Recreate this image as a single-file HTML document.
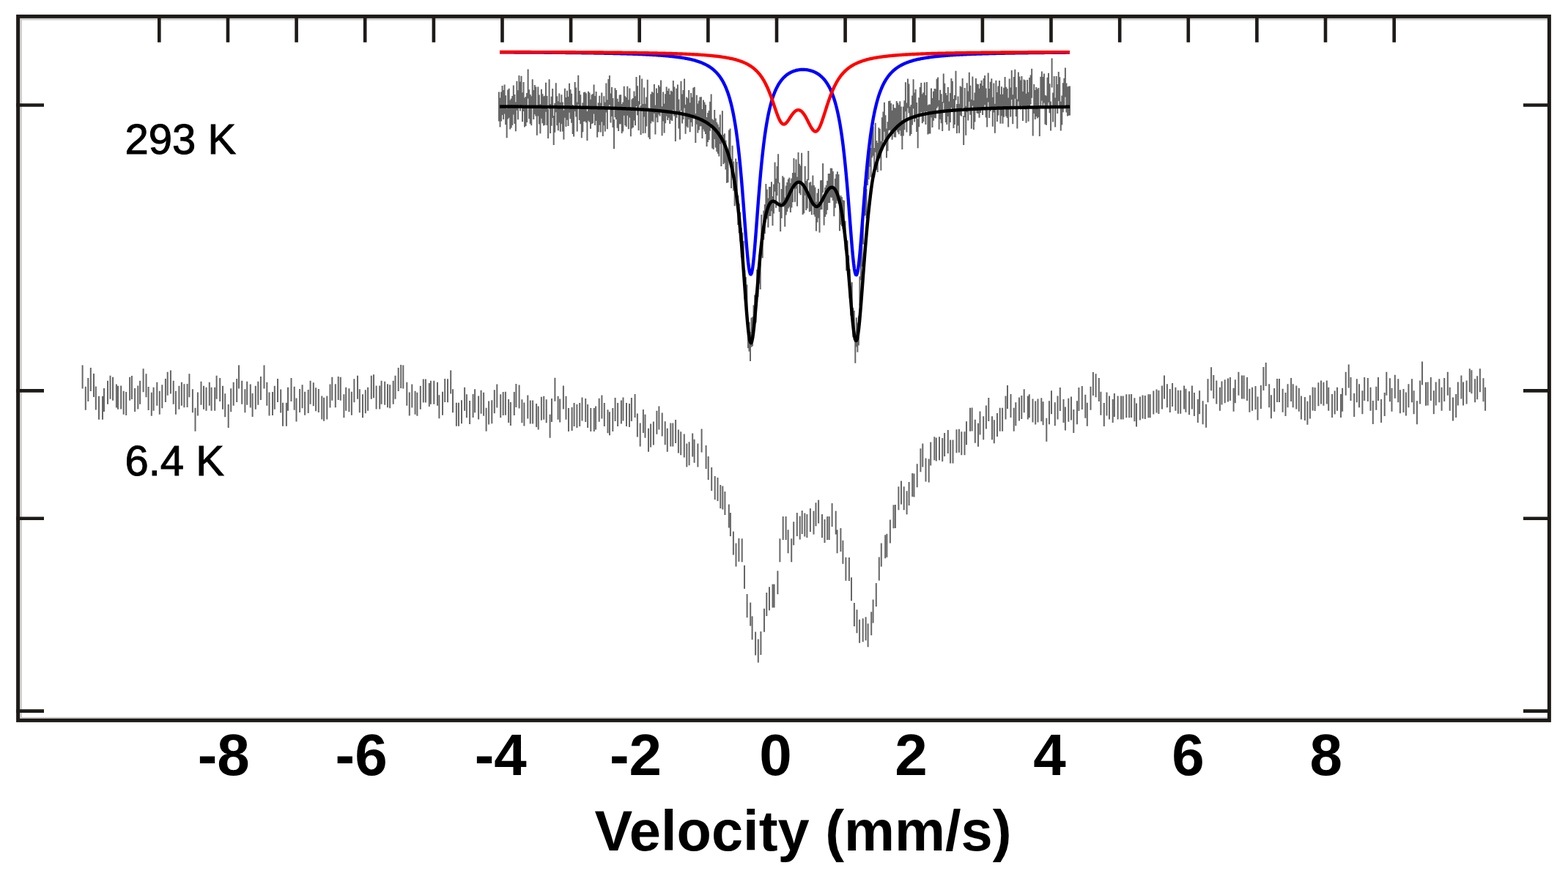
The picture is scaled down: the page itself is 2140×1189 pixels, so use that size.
<!DOCTYPE html>
<html><head><meta charset="utf-8"><title>Velocity (mm/s)</title>
<style>html,body{margin:0;padding:0;background:#fff;}svg{display:block;}</style>
</head><body>
<svg width="2140" height="1189" viewBox="0 0 2140 1189">
<rect width="2140" height="1189" fill="#fff"/>
<rect x="27" y="24.9" width="2085" height="2.6" fill="#cdcdcd"/>
<rect x="27.3" y="24.9" width="2.6" height="956" fill="#cdcdcd"/>
<rect x="27" y="978.9" width="2085" height="2.4" fill="#cdcdcd"/>
<path d="M112.6,498.6V530.6M116.8,527.8V559.8M120.3,516.0V548.0M123.8,502.0V534.0M128.0,509.9V541.9M130.8,527.4V559.4M135.0,540.7V572.7M140.0,540.7V572.7M142.0,530.0V562.0M147.0,519.7V551.7M150.5,512.7V544.7M154.0,514.8V546.8M158.9,524.6V556.6M161.0,526.7V558.7M165.2,526.4V558.4M168.7,533.7V565.7M172.2,535.0V567.0M177.1,514.8V546.8M179.9,513.0V545.0M184.1,530.0V562.0M188.3,526.4V558.4M191.1,519.7V551.7M195.6,503.3V535.3M199.5,510.3V542.3M202.6,528.0V560.0M206.8,535.8V567.8M209.6,528.8V560.8M214.3,521.8V553.8M217.8,533.7V565.7M221.3,525.3V557.3M225.9,516.9V548.9M228.7,507.8V539.8M232.9,505.6V537.6M236.7,519.7V551.7M239.9,533.7V565.7M244.4,526.7V558.7M247.9,521.8V553.8M251.4,524.3V556.3M255.6,523.9V555.9M258.4,510.3V542.3M262.9,531.3V563.3M266.5,556.8V588.8M269.9,535.5V567.5M274.5,520.8V552.8M278.0,526.7V558.7M281.5,528.8V560.8M285.8,521.8V553.8M288.6,528.8V560.8M293.2,528.8V560.8M295.6,512.7V544.7M300.2,515.9V547.9M304.0,526.7V558.7M307.2,537.2V569.2M311.7,551.9V583.9M315.2,530.2V562.2M318.7,521.8V553.8M323.2,516.9V548.9M326.0,498.6V530.6M330.2,519.7V551.7M334.4,531.3V563.3M337.2,520.8V552.8M341.8,524.6V556.6M344.6,536.9V568.9M348.8,526.7V558.7M352.3,520.8V552.8M355.9,514.0V546.0M360.5,498.6V530.6M364.3,521.8V553.8M367.5,535.5V567.5M372.0,535.0V567.0M374.8,526.7V558.7M379.0,516.9V548.9M383.2,531.6V563.6M386.0,549.8V581.8M390.9,549.8V581.8M393.0,528.8V560.8M397.5,516.0V548.0M401.7,527.8V559.8M404.5,543.5V575.5M409.1,530.9V562.9M412.6,525.3V557.3M416.1,534.8V566.8M420.7,532.0V564.0M423.6,519.7V551.7M427.8,522.2V554.2M431.1,529.2V561.2M434.8,530.9V562.9M439.3,540.4V572.4M442.1,542.8V574.8M446.3,540.4V572.4M450.5,524.6V556.6M453.3,514.8V546.8M457.8,524.3V556.3M461.7,514.0V546.0M464.8,514.8V546.8M469.4,538.3V570.3M472.2,528.8V560.8M476.4,530.2V562.2M479.9,534.8V566.8M483.4,517.3V549.3M488.0,512.7V544.7M490.8,531.3V563.3M495.0,538.3V570.3M498.8,532.3V564.3M502.1,528.8V560.8M506.8,512.7V544.7M510.0,511.2V543.2M513.6,526.4V558.4M518.2,526.4V558.4M520.6,519.7V551.7M525.2,520.8V552.8M529.0,524.3V556.3M532.1,525.3V557.3M536.7,519.7V551.7M539.5,512.7V544.7M543.7,502.1V534.1M547.2,497.9V529.9M550.3,498.6V530.6M555.3,521.8V553.8M558.8,535.5V567.5M562.3,524.6V556.6M566.6,533.7V565.7M569.4,535.8V567.8M573.8,526.7V558.7M577.8,517.6V549.6M580.9,517.6V549.6M585.8,522.9V554.9M587.9,519.7V551.7M592.3,519.7V551.7M597.0,521.8V553.8M599.4,539.3V571.3M604.0,534.8V566.8M607.2,516.9V548.9M611.0,517.3V549.3M615.2,505.6V537.6M618.0,531.3V563.3M622.9,549.8V581.8M626.0,549.8V581.8M630.0,546.3V578.3M634.1,528.8V560.8M636.9,538.3V570.3M641.1,547.0V579.0M645.6,537.9V569.9M648.1,531.3V563.3M653.1,540.4V572.4M656.6,532.7V564.7M660.1,535.8V567.8M663.6,556.8V588.8M667.1,547.4V579.4M671.3,546.3V578.3M674.8,532.3V564.3M678.3,524.6V556.6M683.2,538.3V570.3M686.7,535.0V567.0M689.9,534.8V566.8M694.1,544.9V576.9M696.9,549.1V581.1M701.8,535.0V567.0M704.4,524.1V556.1M708.6,525.6V557.6M712.4,545.3V577.3M715.4,549.4V581.4M720.3,539.6V571.6M723.8,546.4V578.4M727.1,546.4V578.4M732.1,550.9V582.9M734.7,554.4V586.4M738.9,541.8V573.8M742.2,540.8V572.8M745.7,545.3V577.3M750.6,565.8V597.8M753.0,544.1V576.1M757.4,515.8V547.8M761.6,540.8V572.8M764.2,544.6V576.6M768.9,526.4V558.4M772.5,540.8V572.8M776.0,557.0V589.0M780.6,555.9V587.9M783.6,549.9V581.9M787.4,552.1V584.1M791.2,549.9V581.9M794.5,542.6V574.6M799.2,544.1V576.1M802.1,552.1V584.1M806.3,557.0V589.0M810.8,557.0V589.0M813.1,554.4V586.4M817.7,543.8V575.8M821.4,539.6V571.6M824.8,549.9V581.9M829.5,559.3V591.3M832.0,562.3V594.3M836.3,557.0V589.0M839.6,543.0V575.0M843.1,549.9V581.9M847.9,546.4V578.4M850.5,542.6V574.6M855.0,549.9V581.9M859.0,550.9V582.9M861.9,543.0V575.0M866.6,538.1V570.1M869.9,564.6V596.6M873.7,577.4V609.4M877.9,559.0V591.0M880.5,565.8V597.8M885.0,584.7V616.7M888.1,578.6V610.6M891.9,575.6V607.6M896.4,560.8V592.8M899.4,554.4V586.4M903.7,563.5V595.5M907.7,575.2V607.2M910.8,584.7V616.7M915.3,577.4V609.4M918.3,577.4V609.4M922.1,572.9V604.9M925.9,586.5V618.5M929.2,589.2V621.2M933.8,592.6V624.6M937.3,605.4V637.4M940.6,603.2V635.2M945.2,591.5V623.5M947.6,599.8V631.8M952.4,605.4V637.4M957.6,585.5V617.5M963.6,608.0V640.0M966.7,623.0V655.0M971.2,638.0V670.0M975.7,650.0V682.0M979.5,652.0V684.0M983.3,662.0V694.0M986.3,663.6V695.6M989.4,671.0V703.0M994.8,688.4V720.4M996.9,700.0V732.0M1000.9,725.6V757.6M1004.5,741.4V773.4M1008.4,734.7V766.7M1012.7,735.3V767.3M1016.0,771.7V803.7M1019.6,811.0V843.0M1024.2,822.5V854.5M1026.6,841.3V873.3M1031.1,862.5V894.5M1034.8,872.5V904.5M1038.4,862.0V894.0M1043.0,830.7V862.7M1046.3,809.0V841.0M1050.0,801.3V833.3M1054.5,797.4V829.4M1056.6,797.4V829.4M1061.4,779.2V811.2M1064.4,735.3V767.3M1068.7,705.0V737.0M1072.6,705.0V737.0M1075.6,723.2V755.2M1080.2,735.3V767.3M1083.2,712.3V744.3M1087.8,700.0V732.0M1091.7,704.5V736.5M1094.7,696.9V728.9M1098.3,700.5V732.5M1101.4,702.0V734.0M1105.9,693.9V725.9M1110.5,697.5V729.5M1113.5,686.3V718.3M1117.1,682.4V714.4M1122.0,702.0V734.0M1125.5,709.0V741.0M1129.2,705.0V737.0M1131.7,705.0V737.0M1135.6,686.9V718.9M1140.7,697.5V729.5M1142.6,723.2V755.2M1147.4,721.1V753.1M1150.4,737.8V769.8M1154.4,760.8V792.8M1158.9,761.1V793.1M1162.0,788.3V820.3M1165.9,823.1V855.1M1169.5,832.2V864.2M1173.1,845.8V877.8M1177.7,844.3V876.3M1181.6,842.2V874.2M1184.6,851.3V883.3M1189.2,835.2V867.2M1191.6,818.6V850.6M1195.8,795.9V827.9M1199.8,760.5V792.5M1202.8,741.4V773.4M1208.2,730.2V762.2M1210.4,728.7V760.7M1214.9,709.6V741.6M1219.5,689.3V721.3M1221.9,689.0V721.0M1226.4,664.2V696.2M1230.0,656.6V688.6M1233.7,664.2V696.2M1237.6,670.3V702.3M1240.6,658.1V690.1M1245.2,646.0V678.0M1247.5,646.4V678.4M1251.7,633.3V665.3M1256.4,612.2V644.2M1259.3,605.5V637.5M1263.5,625.4V657.4M1267.7,626.5V658.5M1270.2,603.5V635.5M1275.3,596.3V628.3M1277.8,597.6V629.6M1282.0,596.3V628.3M1286.2,598.0V630.0M1289.1,590.9V622.9M1293.8,587.0V619.0M1297.1,600.5V632.5M1300.5,600.5V632.5M1305.5,586.2V618.2M1308.9,585.8V617.8M1312.3,589.2V621.2M1316.5,589.2V621.2M1319.0,575.2V607.2M1324.0,556.7V588.7M1326.6,556.4V588.4M1330.8,572.7V604.7M1335.0,577.8V609.8M1337.5,561.5V593.5M1342.2,568.2V600.2M1345.9,553.4V585.4M1349.3,543.0V575.0M1354.0,568.2V600.2M1356.8,573.2V605.2M1361.0,564.0V596.0M1364.7,556.7V588.7M1368.1,556.7V588.7M1372.5,540.4V572.4M1375.0,526.1V558.1M1379.5,537.9V569.9M1383.7,556.7V588.7M1386.3,549.2V581.2M1391.0,542.4V574.4M1394.3,539.9V571.9M1397.7,531.2V563.2M1402.8,540.4V572.4M1404.8,538.2V570.2M1409.5,544.6V576.6M1413.2,547.5V579.5M1416.5,544.6V576.6M1421.3,543.3V575.3M1423.6,548.3V580.3M1428.3,570.7V602.7M1432.0,547.2V579.2M1435.0,533.2V565.2M1439.8,549.2V581.2M1443.5,540.4V572.4M1446.8,529.0V561.0M1451.5,545.0V577.0M1453.9,555.6V587.6M1458.3,543.8V575.8M1462.0,541.6V573.6M1465.3,558.9V590.9M1470.0,547.2V579.2M1472.4,529.0V561.0M1476.8,527.0V559.0M1481.3,538.7V570.7M1483.8,549.7V581.7M1488.5,527.8V559.8M1491.9,508.0V540.0M1495.6,510.2V542.2M1499.8,516.0V548.0M1502.4,534.7V566.7M1506.8,550.0V582.0M1510.5,535.6V567.6M1514.0,540.5V572.5M1518.7,545.1V577.1M1520.9,536.9V568.9M1525.6,540.5V572.5M1530.1,540.5V572.5M1532.7,540.5V572.5M1537.3,538.2V570.2M1541.2,538.2V570.2M1544.1,537.9V569.9M1548.4,543.2V575.2M1551.0,550.4V582.4M1555.9,541.5V573.5M1559.5,539.5V571.5M1562.8,540.1V572.1M1567.4,538.2V570.2M1569.7,538.2V570.2M1574.3,533.6V565.6M1578.5,531.4V563.4M1581.4,533.0V565.0M1586.0,526.4V558.4M1589.0,512.4V544.4M1592.9,524.2V556.2M1596.8,531.0V563.0M1600.1,523.1V555.1M1604.4,528.8V560.8M1607.9,532.7V564.7M1611.2,532.7V564.7M1616.1,526.4V558.4M1618.4,530.7V562.7M1623.0,534.3V566.3M1626.9,526.4V558.4M1629.9,536.0V568.0M1634.8,545.1V577.1M1637.1,533.3V565.3M1641.6,547.3V579.3M1646.1,551.7V583.7M1648.5,517.3V549.3M1653.1,501.3V533.3M1656.3,512.0V544.0M1660.3,519.6V551.6M1664.9,528.8V560.8M1667.5,520.5V552.5M1671.7,518.3V550.3M1676.0,516.6V548.6M1678.9,515.0V547.0M1683.6,529.7V561.7M1685.8,518.3V550.3M1690.4,507.8V539.8M1695.0,512.4V544.4M1697.6,512.4V544.4M1702.1,515.0V547.0M1705.4,530.7V562.7M1709.1,528.8V560.8M1713.5,527.1V559.1M1716.5,541.5V573.5M1720.9,526.1V558.1M1724.4,500.9V532.9M1727.7,495.0V527.0M1732.2,524.2V556.2M1734.9,539.2V571.2M1739.2,530.1V562.1M1743.1,517.0V549.0M1746.0,517.0V549.0M1750.6,530.7V562.7M1754.5,536.0V568.0M1757.5,524.2V556.2M1762.1,516.0V548.0M1764.7,524.2V556.2M1769.3,526.4V558.4M1772.8,529.7V561.7M1775.9,540.5V572.5M1780.9,542.1V574.1M1784.4,547.7V579.7M1787.9,539.5V571.5M1791.6,528.4V560.4M1794.6,529.0V561.0M1799.4,522.2V554.2M1803.0,519.6V551.6M1806.4,521.8V553.8M1810.8,519.6V551.6M1813.2,528.8V560.8M1818.1,537.9V569.9M1821.7,533.6V565.6M1825.0,528.8V560.8M1830.0,537.9V569.9M1832.1,529.7V561.7M1836.7,507.8V539.8M1840.7,497.4V529.4M1843.5,515.0V547.0M1848.2,536.9V568.9M1851.8,517.3V549.3M1855.0,524.2V556.2M1859.4,533.3V565.3M1862.2,515.0V547.0M1866.8,516.0V548.0M1870.5,528.8V560.8M1873.8,547.1V579.1M1878.3,527.7V559.7M1881.0,515.0V547.0M1885.1,545.1V577.1M1889.7,536.0V568.0M1892.3,507.8V539.8M1896.9,516.3V548.3M1899.5,529.7V561.7M1903.8,511.8V543.8M1908.3,517.3V549.3M1910.9,532.3V564.3M1915.5,531.0V563.0M1918.9,535.6V567.6M1922.4,524.2V556.2M1927.0,517.3V549.3M1929.6,533.3V565.3M1933.9,547.3V579.3M1938.1,519.6V551.6M1941.0,493.4V525.4M1946.0,521.8V553.8M1948.6,521.6V553.6M1952.8,515.0V547.0M1956.8,533.3V565.3M1959.7,521.6V553.6M1964.3,517.3V549.3M1967.6,528.8V560.8M1971.2,516.0V548.0M1975.8,507.8V539.8M1978.7,528.8V560.8M1983.0,542.5V574.5M1987.2,537.9V569.9M1989.8,521.6V553.6M1994.4,512.4V544.4M1997.0,521.6V553.6M2001.6,519.6V551.6M2005.8,503.3V535.3M2008.4,505.2V537.2M2013.1,517.3V549.3M2016.2,513.3V545.3M2019.9,503.3V535.3M2024.5,516.3V548.3M2027.1,528.8V560.8" stroke="#666" stroke-width="2" fill="none"/>
<path d="M681.00,125.4V165.4M682.52,133.6V173.6M684.05,125.6V165.6M685.57,116.9V156.9M687.10,123.1V163.1M688.62,115.6V155.6M690.15,130.3V170.3M691.67,148.2V188.2M693.20,122.6V162.6M694.72,120.8V160.8M696.24,136.4V176.4M697.77,134.5V174.5M699.29,131.0V171.0M700.82,116.5V156.5M702.34,129.1V169.1M703.87,139.3V179.3M705.39,110.7V150.7M706.92,123.2V163.2M708.44,103.0V143.0M709.96,111.5V151.5M711.49,103.8V143.8M713.01,126.3V166.3M714.54,111.9V151.9M716.06,133.4V173.4M717.59,131.9V171.9M719.11,127.1V167.1M720.64,94.5V134.5M722.16,122.2V162.2M723.68,129.0V169.0M725.21,131.3V171.3M726.73,108.3V148.3M728.26,123.1V163.1M729.78,116.1V156.1M731.31,118.5V158.5M732.83,144.7V184.7M734.36,118.5V158.5M735.88,129.4V169.4M737.41,142.2V182.2M738.93,121.7V161.7M740.45,128.3V168.3M741.98,131.5V171.5M743.50,130.8V170.8M745.03,112.8V152.8M746.55,131.0V171.0M748.08,149.0V189.0M749.60,108.3V148.3M751.13,142.0V182.0M752.65,131.7V171.7M754.17,121.1V161.1M755.70,158.1V198.1M757.22,140.8V180.8M758.75,113.3V153.3M760.27,131.2V171.2M761.80,138.2V178.2M763.32,127.5V167.5M764.85,139.7V179.7M766.37,129.3V169.3M767.89,139.6V179.6M769.42,150.4V190.4M770.94,120.8V160.8M772.47,133.1V173.1M773.99,123.8V163.8M775.52,132.1V172.1M777.04,113.7V153.7M778.57,122.3V162.3M780.09,127.7V167.7M781.61,143.0V183.0M783.14,146.5V186.5M784.66,112.0V152.0M786.19,119.4V159.4M787.71,139.6V179.6M789.24,102.7V142.7M790.76,124.1V164.1M792.29,129.3V169.3M793.81,148.3V188.3M795.33,140.3V180.3M796.86,126.1V166.1M798.38,125.6V165.6M799.91,127.3V167.3M801.43,152.1V192.1M802.96,124.8V164.8M804.48,126.6V166.6M806.01,135.8V175.8M807.53,129.2V169.2M809.05,128.2V168.2M810.58,115.4V155.4M812.10,130.9V170.9M813.63,124.9V164.9M815.15,147.4V187.4M816.68,140.3V180.3M818.20,130.8V170.8M819.73,140.6V180.6M821.25,126.5V166.5M822.77,146.0V186.0M824.30,131.3V171.3M825.82,139.6V179.6M827.35,113.4V153.4M828.87,136.3V176.3M830.40,107.9V147.9M831.92,103.1V143.1M833.45,127.4V167.4M834.97,119.1V159.1M836.50,134.0V174.0M838.02,163.2V203.2M839.54,120.2V160.2M841.07,123.1V163.1M842.59,134.8V174.8M844.12,138.9V178.9M845.64,129.6V169.6M847.17,129.2V169.2M848.69,142.0V182.0M850.22,139.5V179.5M851.74,117.8V157.8M853.26,131.2V171.2M854.79,132.9V172.9M856.31,117.7V157.7M857.84,136.2V176.2M859.36,120.6V160.6M860.89,146.3V186.3M862.41,135.4V175.4M863.94,134.0V174.0M865.46,124.6V164.6M866.98,131.3V171.3M868.51,105.1V145.1M870.03,117.3V157.3M871.56,137.9V177.9M873.08,102.7V142.7M874.61,144.0V184.0M876.13,107.4V147.4M877.66,142.1V182.1M879.18,119.4V159.4M880.70,141.8V181.8M882.23,132.4V172.4M883.75,108.8V148.8M885.28,147.5V187.5M886.80,149.9V189.9M888.33,128.5V168.5M889.85,125.3V165.3M891.38,126.6V166.6M892.90,114.9V154.9M894.42,143.6V183.6M895.95,120.4V160.4M897.47,127.0V167.0M899.00,116.3V156.3M900.52,118.5V158.5M902.05,109.6V149.6M903.57,145.2V185.2M905.10,125.6V165.6M906.62,141.4V181.4M908.14,128.3V168.3M909.67,118.5V158.5M911.19,123.9V163.9M912.72,120.8V160.8M914.24,128.9V168.9M915.77,123.8V163.8M917.29,125.0V165.0M918.82,110.1V150.1M920.34,118.4V158.4M921.86,153.1V193.1M923.39,120.7V160.7M924.91,115.6V155.6M926.44,135.4V175.4M927.96,150.6V190.6M929.49,110.8V150.8M931.01,128.6V168.6M932.54,123.0V163.0M934.06,107.5V147.5M935.59,142.8V182.8M937.11,132.5V172.5M938.63,134.2V174.2M940.16,123.0V163.0M941.68,140.3V180.3M943.21,126.9V166.9M944.73,132.8V172.8M946.26,119.8V159.8M947.78,118.8V158.8M949.31,155.0V195.0M950.83,129.8V169.8M952.35,141.5V181.5M953.88,137.6V177.6M955.40,132.5V172.5M956.93,132.3V172.3M958.45,148.9V188.9M959.98,136.6V176.6M961.50,139.6V179.6M963.03,142.9V182.9M964.55,160.0V200.0M966.07,154.0V194.0M967.60,150.9V190.9M969.12,138.8V178.8M970.65,128.5V168.5M972.17,162.5V202.5M973.70,164.1V204.1M975.22,150.1V190.1M976.75,161.6V201.6M978.27,166.9V206.9M979.79,169.8V209.8M981.32,173.4V213.4M982.84,156.6V196.6M984.37,186.9V226.9M985.89,151.2V191.2M987.42,184.0V224.0M988.94,182.3V222.3M990.47,191.5V231.5M991.99,209.8V249.8M993.51,209.0V249.0M995.04,177.4V217.4M996.56,175.6V215.6M998.09,217.1V257.1M999.61,198.7V238.7M1001.14,220.6V260.6M1002.66,241.3V281.3M1004.19,216.5V256.5M1005.71,221.1V261.1M1007.23,266.9V306.9M1008.76,278.0V318.0M1010.28,289.7V329.7M1011.81,311.1V351.1M1013.33,317.5V357.5M1014.86,328.7V368.7M1016.38,368.6V408.6M1017.91,378.2V418.2M1019.43,388.4V428.4M1020.95,435.2V475.2M1022.48,439.7V479.7M1024.00,453.0V493.0M1025.53,433.8V473.8M1027.05,432.6V472.6M1028.58,416.5V456.5M1030.10,402.8V442.8M1031.63,400.3V440.3M1033.15,367.9V407.9M1034.68,365.3V405.3M1036.20,347.6V387.6M1037.72,355.1V395.1M1039.25,293.0V333.0M1040.77,312.3V352.3M1042.30,287.4V327.4M1043.82,279.1V319.1M1045.35,251.1V291.1M1046.87,258.6V298.6M1048.40,270.4V310.4M1049.92,254.9V294.9M1051.44,254.9V294.9M1052.97,248.2V288.2M1054.49,267.9V307.9M1056.02,251.5V291.5M1057.54,221.6V261.6M1059.07,243.7V283.7M1060.59,227.0V267.0M1062.12,210.2V250.2M1063.64,249.3V289.3M1065.16,275.9V315.9M1066.69,258.0V298.0M1068.21,240.3V280.3M1069.74,242.3V282.3M1071.26,269.5V309.5M1072.79,253.4V293.4M1074.31,249.0V289.0M1075.84,244.5V284.5M1077.36,242.6V282.6M1078.88,250.1V290.1M1080.41,243.5V283.5M1081.93,236.1V276.1M1083.46,216.1V256.1M1084.98,235.8V275.8M1086.51,217.6V257.6M1088.03,241.5V281.5M1089.56,207.9V247.9M1091.08,223.8V263.8M1092.60,226.2V266.2M1094.13,208.8V248.8M1095.65,253.0V293.0M1097.18,251.3V291.3M1098.70,226.8V266.8M1100.23,246.9V286.9M1101.75,244.5V284.5M1103.28,205.9V245.9M1104.80,249.3V289.3M1106.32,248.2V288.2M1107.85,253.2V293.2M1109.37,239.6V279.6M1110.90,253.1V293.1M1112.42,255.7V295.7M1113.95,275.5V315.5M1115.47,263.4V303.4M1117.00,257.8V297.8M1118.52,277.6V317.6M1120.05,246.2V286.2M1121.57,245.9V285.9M1123.09,223.0V263.0M1124.62,267.4V307.4M1126.14,256.1V296.1M1127.67,252.7V292.7M1129.19,246.8V286.8M1130.72,237.0V277.0M1132.24,236.9V276.9M1133.77,229.4V269.4M1135.29,229.8V269.8M1136.81,233.7V273.7M1138.34,255.2V295.2M1139.86,243.7V283.7M1141.39,237.8V277.8M1142.91,234.2V274.2M1144.44,238.1V278.1M1145.96,275.2V315.2M1147.49,266.8V306.8M1149.01,268.9V308.9M1150.53,273.0V313.0M1152.06,273.8V313.8M1153.58,301.6V341.6M1155.11,329.6V369.6M1156.63,328.3V368.3M1158.16,348.5V388.5M1159.68,367.3V407.3M1161.21,390.9V430.9M1162.73,385.2V425.2M1164.25,420.2V460.2M1165.78,423.9V463.9M1167.30,455.7V495.7M1168.83,433.4V473.4M1170.35,440.8V480.8M1171.88,431.6V471.6M1173.40,377.2V417.2M1174.93,342.5V382.5M1176.45,323.9V363.9M1177.97,293.5V333.5M1179.50,255.0V295.0M1181.02,253.9V293.9M1182.55,258.0V298.0M1184.07,212.9V252.9M1185.60,205.0V245.0M1187.12,187.7V227.7M1188.65,201.8V241.8M1190.17,175.2V215.2M1191.69,172.7V212.7M1193.22,202.0V242.0M1194.74,167.7V207.7M1196.27,192.0V232.0M1197.79,195.0V235.0M1199.32,174.3V214.3M1200.84,175.7V215.7M1202.37,192.8V232.8M1203.89,160.3V200.3M1205.41,152.5V192.5M1206.94,139.8V179.8M1208.46,157.2V197.2M1209.99,175.4V215.4M1211.51,166.3V206.3M1213.04,137.9V177.9M1214.56,137.4V177.4M1216.09,140.9V180.9M1217.61,150.8V190.8M1219.14,142.6V182.6M1220.66,147.3V187.3M1222.18,147.4V187.4M1223.71,138.0V178.0M1225.23,140.6V180.6M1226.76,143.2V183.2M1228.28,138.2V178.2M1229.81,145.6V185.6M1231.33,164.0V204.0M1232.86,145.4V185.4M1234.38,137.2V177.2M1235.90,112.2V152.2M1237.43,140.6V180.6M1238.95,107.4V147.4M1240.48,114.4V154.4M1242.00,145.6V185.6M1243.53,143.0V183.0M1245.05,130.6V170.6M1246.58,108.3V148.3M1248.10,126.6V166.6M1249.62,121.9V161.9M1251.15,139.9V179.9M1252.67,162.2V202.2M1254.20,133.3V173.3M1255.72,118.9V158.9M1257.25,113.1V153.1M1258.77,128.3V168.3M1260.30,126.3V166.3M1261.82,112.5V152.5M1263.34,130.0V170.0M1264.87,112.0V152.0M1266.39,143.4V183.4M1267.92,142.5V182.5M1269.44,142.5V182.5M1270.97,120.4V160.4M1272.49,134.0V174.0M1274.02,124.8V164.8M1275.54,120.9V160.9M1277.06,121.4V161.4M1278.59,107.8V147.8M1280.11,105.6V145.6M1281.64,136.7V176.7M1283.16,122.7V162.7M1284.69,128.2V168.2M1286.21,139.1V179.1M1287.74,100.6V140.6M1289.26,113.7V153.7M1290.78,127.0V167.0M1292.31,129.9V169.9M1293.83,119.0V159.0M1295.36,138.5V178.5M1296.88,126.9V166.9M1298.41,106.9V146.9M1299.93,110.7V150.7M1301.46,134.9V174.9M1302.98,130.0V170.0M1304.50,96.8V136.8M1306.03,142.1V182.1M1307.55,131.5V171.5M1309.08,141.8V181.8M1310.60,117.5V157.5M1312.13,118.7V158.7M1313.65,106.9V146.9M1315.18,158.1V198.1M1316.70,120.1V160.1M1318.23,144.7V184.7M1319.75,113.3V153.3M1321.27,124.5V164.5M1322.80,98.8V138.8M1324.32,116.7V156.7M1325.85,135.8V175.8M1327.37,104.4V144.4M1328.90,136.9V176.9M1330.42,126.5V166.5M1331.95,107.1V147.1M1333.47,114.6V154.6M1334.99,115.1V155.1M1336.52,120.8V160.8M1338.04,113.9V153.9M1339.57,109.8V149.8M1341.09,117.0V157.0M1342.62,106.9V146.9M1344.14,103.1V143.1M1345.67,120.4V160.4M1347.19,133.4V173.4M1348.71,99.6V139.6M1350.24,121.0V161.0M1351.76,111.8V151.8M1353.29,107.2V147.2M1354.81,132.7V172.7M1356.34,113.5V153.5M1357.86,141.7V181.7M1359.39,109.7V149.7M1360.91,126.0V166.0M1362.43,117.4V157.4M1363.96,110.0V150.0M1365.48,128.7V168.7M1367.01,118.3V158.3M1368.53,128.8V168.8M1370.06,119.7V159.7M1371.58,105.1V145.1M1373.11,118.8V158.8M1374.63,120.9V160.9M1376.15,133.6V173.6M1377.68,107.5V147.5M1379.20,119.6V159.6M1380.73,96.0V136.0M1382.25,129.2V169.2M1383.78,104.9V144.9M1385.30,94.7V134.7M1386.83,119.1V159.1M1388.35,135.4V175.4M1389.87,98.5V138.5M1391.40,104.6V144.6M1392.92,109.4V149.4M1394.45,104.0V144.0M1395.97,125.0V165.0M1397.50,108.4V148.4M1399.02,109.6V149.6M1400.55,127.8V167.8M1402.07,109.0V149.0M1403.59,125.7V165.7M1405.12,106.0V146.0M1406.64,102.6V142.6M1408.17,93.8V133.8M1409.69,145.5V185.5M1411.22,115.0V155.0M1412.74,122.9V162.9M1414.27,119.0V159.0M1415.79,121.6V161.6M1417.32,120.1V160.1M1418.84,146.1V186.1M1420.36,104.8V144.8M1421.89,97.5V137.5M1423.41,105.1V145.1M1424.94,100.6V140.6M1426.46,129.7V169.7M1427.99,130.7V170.7M1429.51,105.7V145.7M1431.04,99.7V139.7M1432.56,114.2V154.2M1434.08,138.6V178.6M1435.61,79.6V119.6M1437.13,126.5V166.5M1438.66,104.0V144.0M1440.18,133.6V173.6M1441.71,103.9V143.9M1443.23,115.0V155.0M1444.76,97.9V137.9M1446.28,105.3V145.3M1447.80,138.4V178.4M1449.33,130.4V170.4M1450.85,113.3V153.3M1452.38,106.7V146.7M1453.90,92.4V132.4M1455.43,113.4V153.4M1456.95,118.4V158.4M1458.48,117.7V157.7M1460.00,117.5V157.5" stroke="#666" stroke-width="2" fill="none"/>
<path d="M682.0,145.39 L683.0,145.40 L684.0,145.41 L685.0,145.41 L686.0,145.42 L687.0,145.43 L688.0,145.43 L689.0,145.44 L690.0,145.45 L691.0,145.45 L692.0,145.46 L693.0,145.47 L694.0,145.48 L695.0,145.48 L696.0,145.49 L697.0,145.50 L698.0,145.51 L699.0,145.51 L700.0,145.52 L701.0,145.53 L702.0,145.54 L703.0,145.54 L704.0,145.55 L705.0,145.56 L706.0,145.57 L707.0,145.58 L708.0,145.58 L709.0,145.59 L710.0,145.60 L711.0,145.61 L712.0,145.62 L713.0,145.63 L714.0,145.63 L715.0,145.64 L716.0,145.65 L717.0,145.66 L718.0,145.67 L719.0,145.68 L720.0,145.69 L721.0,145.70 L722.0,145.71 L723.0,145.71 L724.0,145.72 L725.0,145.73 L726.0,145.74 L727.0,145.75 L728.0,145.76 L729.0,145.77 L730.0,145.78 L731.0,145.79 L732.0,145.80 L733.0,145.81 L734.0,145.82 L735.0,145.83 L736.0,145.84 L737.0,145.85 L738.0,145.86 L739.0,145.87 L740.0,145.89 L741.0,145.90 L742.0,145.91 L743.0,145.92 L744.0,145.93 L745.0,145.94 L746.0,145.95 L747.0,145.96 L748.0,145.98 L749.0,145.99 L750.0,146.00 L751.0,146.01 L752.0,146.02 L753.0,146.03 L754.0,146.05 L755.0,146.06 L756.0,146.07 L757.0,146.08 L758.0,146.10 L759.0,146.11 L760.0,146.12 L761.0,146.14 L762.0,146.15 L763.0,146.16 L764.0,146.18 L765.0,146.19 L766.0,146.20 L767.0,146.22 L768.0,146.23 L769.0,146.25 L770.0,146.26 L771.0,146.28 L772.0,146.29 L773.0,146.31 L774.0,146.32 L775.0,146.34 L776.0,146.35 L777.0,146.37 L778.0,146.38 L779.0,146.40 L780.0,146.41 L781.0,146.43 L782.0,146.45 L783.0,146.46 L784.0,146.48 L785.0,146.50 L786.0,146.52 L787.0,146.53 L788.0,146.55 L789.0,146.57 L790.0,146.59 L791.0,146.60 L792.0,146.62 L793.0,146.64 L794.0,146.66 L795.0,146.68 L796.0,146.70 L797.0,146.72 L798.0,146.74 L799.0,146.76 L800.0,146.78 L801.0,146.80 L802.0,146.82 L803.0,146.84 L804.0,146.86 L805.0,146.88 L806.0,146.90 L807.0,146.92 L808.0,146.95 L809.0,146.97 L810.0,146.99 L811.0,147.01 L812.0,147.04 L813.0,147.06 L814.0,147.08 L815.0,147.11 L816.0,147.13 L817.0,147.16 L818.0,147.18 L819.0,147.21 L820.0,147.23 L821.0,147.26 L822.0,147.29 L823.0,147.31 L824.0,147.34 L825.0,147.37 L826.0,147.39 L827.0,147.42 L828.0,147.45 L829.0,147.48 L830.0,147.51 L831.0,147.54 L832.0,147.57 L833.0,147.60 L834.0,147.63 L835.0,147.66 L836.0,147.69 L837.0,147.73 L838.0,147.76 L839.0,147.79 L840.0,147.82 L841.0,147.86 L842.0,147.89 L843.0,147.93 L844.0,147.96 L845.0,148.00 L846.0,148.04 L847.0,148.07 L848.0,148.11 L849.0,148.15 L850.0,148.19 L851.0,148.23 L852.0,148.27 L853.0,148.31 L854.0,148.35 L855.0,148.39 L856.0,148.43 L857.0,148.48 L858.0,148.52 L859.0,148.56 L860.0,148.61 L861.0,148.66 L862.0,148.70 L863.0,148.75 L864.0,148.80 L865.0,148.85 L866.0,148.90 L867.0,148.95 L868.0,149.00 L869.0,149.05 L870.0,149.10 L871.0,149.16 L872.0,149.21 L873.0,149.27 L874.0,149.33 L875.0,149.38 L876.0,149.44 L877.0,149.50 L878.0,149.56 L879.0,149.63 L880.0,149.69 L881.0,149.75 L882.0,149.82 L883.0,149.89 L884.0,149.95 L885.0,150.02 L886.0,150.09 L887.0,150.17 L888.0,150.24 L889.0,150.31 L890.0,150.39 L891.0,150.47 L892.0,150.55 L893.0,150.63 L894.0,150.71 L895.0,150.80 L896.0,150.88 L897.0,150.97 L898.0,151.06 L899.0,151.15 L900.0,151.24 L901.0,151.34 L902.0,151.43 L903.0,151.53 L904.0,151.64 L905.0,151.74 L906.0,151.84 L907.0,151.95 L908.0,152.06 L909.0,152.18 L910.0,152.29 L911.0,152.41 L912.0,152.53 L913.0,152.66 L914.0,152.78 L915.0,152.91 L916.0,153.05 L917.0,153.18 L918.0,153.32 L919.0,153.46 L920.0,153.61 L921.0,153.76 L922.0,153.92 L923.0,154.07 L924.0,154.24 L925.0,154.40 L926.0,154.57 L927.0,154.75 L928.0,154.93 L929.0,155.11 L930.0,155.30 L931.0,155.50 L932.0,155.70 L933.0,155.91 L934.0,156.12 L935.0,156.34 L936.0,156.56 L937.0,156.80 L938.0,157.03 L939.0,157.28 L940.0,157.54 L941.0,157.80 L942.0,158.07 L943.0,158.35 L944.0,158.63 L945.0,158.93 L946.0,159.24 L947.0,159.56 L948.0,159.88 L949.0,160.22 L950.0,160.57 L951.0,160.94 L952.0,161.32 L953.0,161.71 L954.0,162.11 L955.0,162.53 L956.0,162.97 L957.0,163.42 L958.0,163.89 L959.0,164.38 L960.0,164.89 L961.0,165.42 L962.0,165.97 L963.0,166.54 L964.0,167.14 L965.0,167.76 L966.0,168.42 L967.0,169.10 L968.0,169.81 L969.0,170.55 L970.0,171.33 L971.0,172.15 L972.0,173.01 L973.0,173.90 L974.0,174.85 L975.0,175.84 L976.0,176.88 L977.0,177.98 L978.0,179.14 L979.0,180.36 L980.0,181.64 L981.0,183.01 L982.0,184.45 L983.0,185.97 L984.0,187.59 L985.0,189.30 L986.0,191.12 L987.0,193.06 L988.0,195.12 L989.0,197.32 L990.0,199.66 L991.0,202.17 L992.0,204.85 L993.0,207.72 L994.0,210.80 L995.0,214.10 L996.0,217.66 L997.0,221.48 L998.0,225.59 L999.0,230.03 L1000.0,234.82 L1001.0,240.00 L1002.0,245.59 L1003.0,251.64 L1004.0,258.19 L1005.0,265.27 L1006.0,272.93 L1007.0,281.21 L1008.0,290.14 L1009.0,299.75 L1010.0,310.08 L1011.0,321.13 L1012.0,332.88 L1013.0,345.31 L1014.0,358.33 L1015.0,371.82 L1016.0,385.61 L1017.0,399.47 L1018.0,413.08 L1019.0,426.09 L1020.0,438.07 L1021.0,448.59 L1022.0,457.20 L1023.0,463.53 L1024.0,467.26 L1025.0,468.25 L1026.0,466.47 L1027.0,462.07 L1028.0,455.32 L1029.0,446.60 L1030.0,436.34 L1031.0,424.99 L1032.0,412.98 L1033.0,400.69 L1034.0,388.44 L1035.0,376.50 L1036.0,365.04 L1037.0,354.20 L1038.0,344.08 L1039.0,334.72 L1040.0,326.14 L1041.0,318.35 L1042.0,311.33 L1043.0,305.04 L1044.0,299.47 L1045.0,294.58 L1046.0,290.32 L1047.0,286.66 L1048.0,283.56 L1049.0,281.00 L1050.0,278.92 L1051.0,277.30 L1052.0,276.10 L1053.0,275.29 L1054.0,274.83 L1055.0,274.69 L1056.0,274.81 L1057.0,275.16 L1058.0,275.70 L1059.0,276.37 L1060.0,277.13 L1061.0,277.91 L1062.0,278.66 L1063.0,279.34 L1064.0,279.88 L1065.0,280.24 L1066.0,280.38 L1067.0,280.26 L1068.0,279.87 L1069.0,279.19 L1070.0,278.23 L1071.0,277.00 L1072.0,275.52 L1073.0,273.83 L1074.0,271.97 L1075.0,269.98 L1076.0,267.90 L1077.0,265.78 L1078.0,263.66 L1079.0,261.58 L1080.0,259.58 L1081.0,257.69 L1082.0,255.93 L1083.0,254.33 L1084.0,252.91 L1085.0,251.67 L1086.0,250.64 L1087.0,249.81 L1088.0,249.21 L1089.0,248.82 L1090.0,248.65 L1091.0,248.71 L1092.0,249.00 L1093.0,249.50 L1094.0,250.22 L1095.0,251.15 L1096.0,252.29 L1097.0,253.63 L1098.0,255.14 L1099.0,256.83 L1100.0,258.67 L1101.0,260.63 L1102.0,262.71 L1103.0,264.85 L1104.0,267.04 L1105.0,269.22 L1106.0,271.37 L1107.0,273.43 L1108.0,275.37 L1109.0,277.12 L1110.0,278.66 L1111.0,279.94 L1112.0,280.92 L1113.0,281.58 L1114.0,281.91 L1115.0,281.88 L1116.0,281.52 L1117.0,280.82 L1118.0,279.83 L1119.0,278.56 L1120.0,277.07 L1121.0,275.39 L1122.0,273.56 L1123.0,271.65 L1124.0,269.69 L1125.0,267.74 L1126.0,265.82 L1127.0,263.99 L1128.0,262.27 L1129.0,260.70 L1130.0,259.30 L1131.0,258.10 L1132.0,257.11 L1133.0,256.37 L1134.0,255.87 L1135.0,255.65 L1136.0,255.71 L1137.0,256.08 L1138.0,256.76 L1139.0,257.78 L1140.0,259.14 L1141.0,260.88 L1142.0,263.00 L1143.0,265.54 L1144.0,268.51 L1145.0,271.95 L1146.0,275.88 L1147.0,280.33 L1148.0,285.34 L1149.0,290.94 L1150.0,297.16 L1151.0,304.04 L1152.0,311.60 L1153.0,319.86 L1154.0,328.84 L1155.0,338.54 L1156.0,348.94 L1157.0,359.98 L1158.0,371.57 L1159.0,383.60 L1160.0,395.88 L1161.0,408.17 L1162.0,420.18 L1163.0,431.56 L1164.0,441.90 L1165.0,450.81 L1166.0,457.86 L1167.0,462.71 L1168.0,465.09 L1169.0,464.84 L1170.0,461.96 L1171.0,456.56 L1172.0,448.88 L1173.0,439.28 L1174.0,428.14 L1175.0,415.88 L1176.0,402.89 L1177.0,389.53 L1178.0,376.11 L1179.0,362.86 L1180.0,349.96 L1181.0,337.52 L1182.0,325.62 L1183.0,314.27 L1184.0,303.48 L1185.0,293.24 L1186.0,283.54 L1187.0,274.42 L1188.0,265.92 L1189.0,258.10 L1190.0,251.04 L1191.0,244.76 L1192.0,239.26 L1193.0,234.48 L1194.0,230.30 L1195.0,226.59 L1196.0,223.23 L1197.0,220.10 L1198.0,217.13 L1199.0,214.28 L1200.0,211.54 L1201.0,208.91 L1202.0,206.41 L1203.0,204.03 L1204.0,201.78 L1205.0,199.66 L1206.0,197.66 L1207.0,195.77 L1208.0,193.98 L1209.0,192.28 L1210.0,190.66 L1211.0,189.12 L1212.0,187.63 L1213.0,186.21 L1214.0,184.84 L1215.0,183.51 L1216.0,182.23 L1217.0,180.99 L1218.0,179.78 L1219.0,178.62 L1220.0,177.49 L1221.0,176.40 L1222.0,175.34 L1223.0,174.32 L1224.0,173.34 L1225.0,172.39 L1226.0,171.48 L1227.0,170.61 L1228.0,169.77 L1229.0,168.97 L1230.0,168.20 L1231.0,167.47 L1232.0,166.78 L1233.0,166.11 L1234.0,165.48 L1235.0,164.88 L1236.0,164.31 L1237.0,163.77 L1238.0,163.26 L1239.0,162.77 L1240.0,162.30 L1241.0,161.86 L1242.0,161.44 L1243.0,161.03 L1244.0,160.65 L1245.0,160.28 L1246.0,159.92 L1247.0,159.58 L1248.0,159.25 L1249.0,158.94 L1250.0,158.64 L1251.0,158.35 L1252.0,158.06 L1253.0,157.79 L1254.0,157.53 L1255.0,157.27 L1256.0,157.03 L1257.0,156.79 L1258.0,156.55 L1259.0,156.33 L1260.0,156.11 L1261.0,155.90 L1262.0,155.69 L1263.0,155.49 L1264.0,155.30 L1265.0,155.11 L1266.0,154.92 L1267.0,154.74 L1268.0,154.57 L1269.0,154.40 L1270.0,154.23 L1271.0,154.07 L1272.0,153.91 L1273.0,153.76 L1274.0,153.61 L1275.0,153.46 L1276.0,153.32 L1277.0,153.18 L1278.0,153.04 L1279.0,152.91 L1280.0,152.78 L1281.0,152.65 L1282.0,152.53 L1283.0,152.41 L1284.0,152.29 L1285.0,152.17 L1286.0,152.06 L1287.0,151.95 L1288.0,151.84 L1289.0,151.74 L1290.0,151.63 L1291.0,151.53 L1292.0,151.43 L1293.0,151.34 L1294.0,151.24 L1295.0,151.15 L1296.0,151.06 L1297.0,150.97 L1298.0,150.88 L1299.0,150.79 L1300.0,150.71 L1301.0,150.63 L1302.0,150.55 L1303.0,150.47 L1304.0,150.39 L1305.0,150.31 L1306.0,150.24 L1307.0,150.17 L1308.0,150.09 L1309.0,150.02 L1310.0,149.95 L1311.0,149.89 L1312.0,149.82 L1313.0,149.75 L1314.0,149.69 L1315.0,149.63 L1316.0,149.56 L1317.0,149.50 L1318.0,149.44 L1319.0,149.38 L1320.0,149.33 L1321.0,149.27 L1322.0,149.21 L1323.0,149.16 L1324.0,149.10 L1325.0,149.05 L1326.0,149.00 L1327.0,148.95 L1328.0,148.90 L1329.0,148.85 L1330.0,148.80 L1331.0,148.75 L1332.0,148.70 L1333.0,148.66 L1334.0,148.61 L1335.0,148.56 L1336.0,148.52 L1337.0,148.48 L1338.0,148.43 L1339.0,148.39 L1340.0,148.35 L1341.0,148.31 L1342.0,148.27 L1343.0,148.23 L1344.0,148.19 L1345.0,148.15 L1346.0,148.11 L1347.0,148.07 L1348.0,148.04 L1349.0,148.00 L1350.0,147.96 L1351.0,147.93 L1352.0,147.89 L1353.0,147.86 L1354.0,147.82 L1355.0,147.79 L1356.0,147.76 L1357.0,147.73 L1358.0,147.69 L1359.0,147.66 L1360.0,147.63 L1361.0,147.60 L1362.0,147.57 L1363.0,147.54 L1364.0,147.51 L1365.0,147.48 L1366.0,147.45 L1367.0,147.42 L1368.0,147.39 L1369.0,147.37 L1370.0,147.34 L1371.0,147.31 L1372.0,147.29 L1373.0,147.26 L1374.0,147.23 L1375.0,147.21 L1376.0,147.18 L1377.0,147.16 L1378.0,147.13 L1379.0,147.11 L1380.0,147.08 L1381.0,147.06 L1382.0,147.04 L1383.0,147.01 L1384.0,146.99 L1385.0,146.97 L1386.0,146.95 L1387.0,146.92 L1388.0,146.90 L1389.0,146.88 L1390.0,146.86 L1391.0,146.84 L1392.0,146.82 L1393.0,146.80 L1394.0,146.78 L1395.0,146.76 L1396.0,146.74 L1397.0,146.72 L1398.0,146.70 L1399.0,146.68 L1400.0,146.66 L1401.0,146.64 L1402.0,146.62 L1403.0,146.60 L1404.0,146.59 L1405.0,146.57 L1406.0,146.55 L1407.0,146.53 L1408.0,146.52 L1409.0,146.50 L1410.0,146.48 L1411.0,146.46 L1412.0,146.45 L1413.0,146.43 L1414.0,146.42 L1415.0,146.40 L1416.0,146.38 L1417.0,146.37 L1418.0,146.35 L1419.0,146.34 L1420.0,146.32 L1421.0,146.31 L1422.0,146.29 L1423.0,146.28 L1424.0,146.26 L1425.0,146.25 L1426.0,146.23 L1427.0,146.22 L1428.0,146.21 L1429.0,146.19 L1430.0,146.18 L1431.0,146.16 L1432.0,146.15 L1433.0,146.14 L1434.0,146.12 L1435.0,146.11 L1436.0,146.10 L1437.0,146.09 L1438.0,146.07 L1439.0,146.06 L1440.0,146.05 L1441.0,146.04 L1442.0,146.02 L1443.0,146.01 L1444.0,146.00 L1445.0,145.99 L1446.0,145.98 L1447.0,145.96 L1448.0,145.95 L1449.0,145.94 L1450.0,145.93 L1451.0,145.92 L1452.0,145.91 L1453.0,145.90 L1454.0,145.89 L1455.0,145.87 L1456.0,145.86 L1457.0,145.85 L1458.0,145.84 L1459.0,145.83 L1460.0,145.82" stroke="#000" stroke-width="4.5" fill="none" stroke-linejoin="round"/>
<path d="M682.0,71.33 L683.0,71.34 L684.0,71.34 L685.0,71.35 L686.0,71.35 L687.0,71.35 L688.0,71.36 L689.0,71.36 L690.0,71.37 L691.0,71.37 L692.0,71.38 L693.0,71.38 L694.0,71.39 L695.0,71.39 L696.0,71.40 L697.0,71.40 L698.0,71.41 L699.0,71.41 L700.0,71.42 L701.0,71.42 L702.0,71.43 L703.0,71.43 L704.0,71.44 L705.0,71.44 L706.0,71.45 L707.0,71.45 L708.0,71.46 L709.0,71.46 L710.0,71.47 L711.0,71.48 L712.0,71.48 L713.0,71.49 L714.0,71.49 L715.0,71.50 L716.0,71.50 L717.0,71.51 L718.0,71.52 L719.0,71.52 L720.0,71.53 L721.0,71.53 L722.0,71.54 L723.0,71.55 L724.0,71.55 L725.0,71.56 L726.0,71.56 L727.0,71.57 L728.0,71.58 L729.0,71.58 L730.0,71.59 L731.0,71.60 L732.0,71.60 L733.0,71.61 L734.0,71.62 L735.0,71.62 L736.0,71.63 L737.0,71.64 L738.0,71.65 L739.0,71.65 L740.0,71.66 L741.0,71.67 L742.0,71.67 L743.0,71.68 L744.0,71.69 L745.0,71.70 L746.0,71.70 L747.0,71.71 L748.0,71.72 L749.0,71.73 L750.0,71.74 L751.0,71.74 L752.0,71.75 L753.0,71.76 L754.0,71.77 L755.0,71.78 L756.0,71.79 L757.0,71.79 L758.0,71.80 L759.0,71.81 L760.0,71.82 L761.0,71.83 L762.0,71.84 L763.0,71.85 L764.0,71.86 L765.0,71.87 L766.0,71.88 L767.0,71.88 L768.0,71.89 L769.0,71.90 L770.0,71.91 L771.0,71.92 L772.0,71.93 L773.0,71.94 L774.0,71.95 L775.0,71.96 L776.0,71.97 L777.0,71.99 L778.0,72.00 L779.0,72.01 L780.0,72.02 L781.0,72.03 L782.0,72.04 L783.0,72.05 L784.0,72.06 L785.0,72.07 L786.0,72.09 L787.0,72.10 L788.0,72.11 L789.0,72.12 L790.0,72.13 L791.0,72.15 L792.0,72.16 L793.0,72.17 L794.0,72.19 L795.0,72.20 L796.0,72.21 L797.0,72.22 L798.0,72.24 L799.0,72.25 L800.0,72.27 L801.0,72.28 L802.0,72.29 L803.0,72.31 L804.0,72.32 L805.0,72.34 L806.0,72.35 L807.0,72.37 L808.0,72.38 L809.0,72.40 L810.0,72.41 L811.0,72.43 L812.0,72.45 L813.0,72.46 L814.0,72.48 L815.0,72.50 L816.0,72.51 L817.0,72.53 L818.0,72.55 L819.0,72.57 L820.0,72.58 L821.0,72.60 L822.0,72.62 L823.0,72.64 L824.0,72.66 L825.0,72.68 L826.0,72.70 L827.0,72.72 L828.0,72.74 L829.0,72.76 L830.0,72.78 L831.0,72.80 L832.0,72.82 L833.0,72.84 L834.0,72.86 L835.0,72.88 L836.0,72.91 L837.0,72.93 L838.0,72.95 L839.0,72.98 L840.0,73.00 L841.0,73.02 L842.0,73.05 L843.0,73.07 L844.0,73.10 L845.0,73.12 L846.0,73.15 L847.0,73.18 L848.0,73.20 L849.0,73.23 L850.0,73.26 L851.0,73.29 L852.0,73.31 L853.0,73.34 L854.0,73.37 L855.0,73.40 L856.0,73.43 L857.0,73.47 L858.0,73.50 L859.0,73.53 L860.0,73.56 L861.0,73.59 L862.0,73.63 L863.0,73.66 L864.0,73.70 L865.0,73.73 L866.0,73.77 L867.0,73.81 L868.0,73.84 L869.0,73.88 L870.0,73.92 L871.0,73.96 L872.0,74.00 L873.0,74.04 L874.0,74.08 L875.0,74.13 L876.0,74.17 L877.0,74.21 L878.0,74.26 L879.0,74.30 L880.0,74.35 L881.0,74.40 L882.0,74.45 L883.0,74.50 L884.0,74.55 L885.0,74.60 L886.0,74.65 L887.0,74.71 L888.0,74.76 L889.0,74.82 L890.0,74.87 L891.0,74.93 L892.0,74.99 L893.0,75.05 L894.0,75.11 L895.0,75.18 L896.0,75.24 L897.0,75.31 L898.0,75.38 L899.0,75.44 L900.0,75.52 L901.0,75.59 L902.0,75.66 L903.0,75.74 L904.0,75.82 L905.0,75.89 L906.0,75.98 L907.0,76.06 L908.0,76.14 L909.0,76.23 L910.0,76.32 L911.0,76.41 L912.0,76.51 L913.0,76.60 L914.0,76.70 L915.0,76.80 L916.0,76.90 L917.0,77.01 L918.0,77.12 L919.0,77.23 L920.0,77.35 L921.0,77.47 L922.0,77.59 L923.0,77.71 L924.0,77.84 L925.0,77.97 L926.0,78.11 L927.0,78.25 L928.0,78.39 L929.0,78.54 L930.0,78.69 L931.0,78.85 L932.0,79.01 L933.0,79.18 L934.0,79.35 L935.0,79.53 L936.0,79.71 L937.0,79.90 L938.0,80.09 L939.0,80.29 L940.0,80.50 L941.0,80.71 L942.0,80.94 L943.0,81.17 L944.0,81.40 L945.0,81.65 L946.0,81.90 L947.0,82.17 L948.0,82.44 L949.0,82.72 L950.0,83.02 L951.0,83.32 L952.0,83.64 L953.0,83.97 L954.0,84.31 L955.0,84.67 L956.0,85.04 L957.0,85.42 L958.0,85.83 L959.0,86.24 L960.0,86.68 L961.0,87.14 L962.0,87.61 L963.0,88.11 L964.0,88.63 L965.0,89.17 L966.0,89.74 L967.0,90.33 L968.0,90.96 L969.0,91.61 L970.0,92.30 L971.0,93.02 L972.0,93.78 L973.0,94.58 L974.0,95.42 L975.0,96.30 L976.0,97.24 L977.0,98.22 L978.0,99.26 L979.0,100.37 L980.0,101.53 L981.0,102.77 L982.0,104.08 L983.0,105.47 L984.0,106.95 L985.0,108.52 L986.0,110.20 L987.0,111.98 L988.0,113.89 L989.0,115.93 L990.0,118.11 L991.0,120.44 L992.0,122.95 L993.0,125.64 L994.0,128.53 L995.0,131.64 L996.0,134.99 L997.0,138.60 L998.0,142.50 L999.0,146.72 L1000.0,151.28 L1001.0,156.21 L1002.0,161.56 L1003.0,167.35 L1004.0,173.63 L1005.0,180.43 L1006.0,187.80 L1007.0,195.78 L1008.0,204.40 L1009.0,213.69 L1010.0,223.68 L1011.0,234.37 L1012.0,245.76 L1013.0,257.80 L1014.0,270.42 L1015.0,283.50 L1016.0,296.85 L1017.0,310.25 L1018.0,323.39 L1019.0,335.90 L1020.0,347.36 L1021.0,357.34 L1022.0,365.38 L1023.0,371.10 L1024.0,374.21 L1025.0,374.53 L1026.0,372.06 L1027.0,366.93 L1028.0,359.41 L1029.0,349.89 L1030.0,338.77 L1031.0,326.53 L1032.0,313.58 L1033.0,300.29 L1034.0,287.00 L1035.0,273.94 L1036.0,261.31 L1037.0,249.24 L1038.0,237.81 L1039.0,227.07 L1040.0,217.03 L1041.0,207.70 L1042.0,199.04 L1043.0,191.04 L1044.0,183.65 L1045.0,176.84 L1046.0,170.56 L1047.0,164.77 L1048.0,159.44 L1049.0,154.53 L1050.0,150.01 L1051.0,145.83 L1052.0,141.98 L1053.0,138.42 L1054.0,135.13 L1055.0,132.09 L1056.0,129.27 L1057.0,126.66 L1058.0,124.24 L1059.0,122.00 L1060.0,119.91 L1061.0,117.97 L1062.0,116.17 L1063.0,114.49 L1064.0,112.93 L1065.0,111.47 L1066.0,110.11 L1067.0,108.85 L1068.0,107.67 L1069.0,106.57 L1070.0,105.54 L1071.0,104.59 L1072.0,103.69 L1073.0,102.86 L1074.0,102.09 L1075.0,101.36 L1076.0,100.69 L1077.0,100.07 L1078.0,99.49 L1079.0,98.96 L1080.0,98.46 L1081.0,98.01 L1082.0,97.59 L1083.0,97.20 L1084.0,96.85 L1085.0,96.54 L1086.0,96.25 L1087.0,95.99 L1088.0,95.77 L1089.0,95.57 L1090.0,95.40 L1091.0,95.26 L1092.0,95.14 L1093.0,95.05 L1094.0,94.99 L1095.0,94.96 L1096.0,94.94 L1097.0,94.96 L1098.0,95.00 L1099.0,95.07 L1100.0,95.16 L1101.0,95.28 L1102.0,95.42 L1103.0,95.59 L1104.0,95.79 L1105.0,96.02 L1106.0,96.28 L1107.0,96.57 L1108.0,96.89 L1109.0,97.24 L1110.0,97.62 L1111.0,98.04 L1112.0,98.49 L1113.0,98.98 L1114.0,99.51 L1115.0,100.09 L1116.0,100.70 L1117.0,101.36 L1118.0,102.07 L1119.0,102.84 L1120.0,103.65 L1121.0,104.53 L1122.0,105.47 L1123.0,106.47 L1124.0,107.55 L1125.0,108.70 L1126.0,109.93 L1127.0,111.24 L1128.0,112.66 L1129.0,114.17 L1130.0,115.79 L1131.0,117.53 L1132.0,119.39 L1133.0,121.39 L1134.0,123.55 L1135.0,125.86 L1136.0,128.35 L1137.0,131.03 L1138.0,133.92 L1139.0,137.03 L1140.0,140.39 L1141.0,144.02 L1142.0,147.95 L1143.0,152.19 L1144.0,156.79 L1145.0,161.76 L1146.0,167.14 L1147.0,172.98 L1148.0,179.30 L1149.0,186.14 L1150.0,193.54 L1151.0,201.53 L1152.0,210.15 L1153.0,219.42 L1154.0,229.36 L1155.0,239.97 L1156.0,251.23 L1157.0,263.10 L1158.0,275.48 L1159.0,288.26 L1160.0,301.25 L1161.0,314.22 L1162.0,326.88 L1163.0,338.87 L1164.0,349.81 L1165.0,359.27 L1166.0,366.87 L1167.0,372.23 L1168.0,375.11 L1169.0,375.33 L1170.0,372.90 L1171.0,367.93 L1172.0,360.67 L1173.0,351.46 L1174.0,340.70 L1175.0,328.80 L1176.0,316.16 L1177.0,303.14 L1178.0,290.05 L1179.0,277.12 L1180.0,264.56 L1181.0,252.50 L1182.0,241.03 L1183.0,230.20 L1184.0,220.03 L1185.0,210.54 L1186.0,201.69 L1187.0,193.49 L1188.0,185.88 L1189.0,178.84 L1190.0,172.32 L1191.0,166.30 L1192.0,160.73 L1193.0,155.58 L1194.0,150.81 L1195.0,146.40 L1196.0,142.31 L1197.0,138.51 L1198.0,134.99 L1199.0,131.72 L1200.0,128.68 L1201.0,125.85 L1202.0,123.21 L1203.0,120.75 L1204.0,118.45 L1205.0,116.30 L1206.0,114.28 L1207.0,112.40 L1208.0,110.63 L1209.0,108.96 L1210.0,107.40 L1211.0,105.93 L1212.0,104.54 L1213.0,103.23 L1214.0,102.00 L1215.0,100.83 L1216.0,99.73 L1217.0,98.69 L1218.0,97.70 L1219.0,96.76 L1220.0,95.87 L1221.0,95.03 L1222.0,94.22 L1223.0,93.46 L1224.0,92.73 L1225.0,92.04 L1226.0,91.38 L1227.0,90.75 L1228.0,90.15 L1229.0,89.57 L1230.0,89.02 L1231.0,88.50 L1232.0,87.99 L1233.0,87.51 L1234.0,87.05 L1235.0,86.61 L1236.0,86.18 L1237.0,85.77 L1238.0,85.38 L1239.0,85.00 L1240.0,84.64 L1241.0,84.29 L1242.0,83.96 L1243.0,83.64 L1244.0,83.32 L1245.0,83.02 L1246.0,82.74 L1247.0,82.46 L1248.0,82.19 L1249.0,81.93 L1250.0,81.68 L1251.0,81.43 L1252.0,81.20 L1253.0,80.97 L1254.0,80.75 L1255.0,80.54 L1256.0,80.33 L1257.0,80.14 L1258.0,79.94 L1259.0,79.76 L1260.0,79.57 L1261.0,79.40 L1262.0,79.23 L1263.0,79.06 L1264.0,78.90 L1265.0,78.75 L1266.0,78.59 L1267.0,78.45 L1268.0,78.30 L1269.0,78.16 L1270.0,78.03 L1271.0,77.90 L1272.0,77.77 L1273.0,77.64 L1274.0,77.52 L1275.0,77.41 L1276.0,77.29 L1277.0,77.18 L1278.0,77.07 L1279.0,76.96 L1280.0,76.86 L1281.0,76.76 L1282.0,76.66 L1283.0,76.56 L1284.0,76.47 L1285.0,76.38 L1286.0,76.29 L1287.0,76.20 L1288.0,76.11 L1289.0,76.03 L1290.0,75.95 L1291.0,75.87 L1292.0,75.79 L1293.0,75.72 L1294.0,75.64 L1295.0,75.57 L1296.0,75.50 L1297.0,75.43 L1298.0,75.36 L1299.0,75.29 L1300.0,75.23 L1301.0,75.16 L1302.0,75.10 L1303.0,75.04 L1304.0,74.98 L1305.0,74.92 L1306.0,74.86 L1307.0,74.81 L1308.0,74.75 L1309.0,74.70 L1310.0,74.65 L1311.0,74.59 L1312.0,74.54 L1313.0,74.49 L1314.0,74.44 L1315.0,74.40 L1316.0,74.35 L1317.0,74.30 L1318.0,74.26 L1319.0,74.21 L1320.0,74.17 L1321.0,74.13 L1322.0,74.08 L1323.0,74.04 L1324.0,74.00 L1325.0,73.96 L1326.0,73.92 L1327.0,73.88 L1328.0,73.85 L1329.0,73.81 L1330.0,73.77 L1331.0,73.74 L1332.0,73.70 L1333.0,73.67 L1334.0,73.63 L1335.0,73.60 L1336.0,73.57 L1337.0,73.53 L1338.0,73.50 L1339.0,73.47 L1340.0,73.44 L1341.0,73.41 L1342.0,73.38 L1343.0,73.35 L1344.0,73.32 L1345.0,73.29 L1346.0,73.26 L1347.0,73.24 L1348.0,73.21 L1349.0,73.18 L1350.0,73.16 L1351.0,73.13 L1352.0,73.10 L1353.0,73.08 L1354.0,73.05 L1355.0,73.03 L1356.0,73.01 L1357.0,72.98 L1358.0,72.96 L1359.0,72.94 L1360.0,72.91 L1361.0,72.89 L1362.0,72.87 L1363.0,72.85 L1364.0,72.83 L1365.0,72.80 L1366.0,72.78 L1367.0,72.76 L1368.0,72.74 L1369.0,72.72 L1370.0,72.70 L1371.0,72.68 L1372.0,72.66 L1373.0,72.65 L1374.0,72.63 L1375.0,72.61 L1376.0,72.59 L1377.0,72.57 L1378.0,72.55 L1379.0,72.54 L1380.0,72.52 L1381.0,72.50 L1382.0,72.49 L1383.0,72.47 L1384.0,72.45 L1385.0,72.44 L1386.0,72.42 L1387.0,72.41 L1388.0,72.39 L1389.0,72.37 L1390.0,72.36 L1391.0,72.34 L1392.0,72.33 L1393.0,72.32 L1394.0,72.30 L1395.0,72.29 L1396.0,72.27 L1397.0,72.26 L1398.0,72.25 L1399.0,72.23 L1400.0,72.22 L1401.0,72.21 L1402.0,72.19 L1403.0,72.18 L1404.0,72.17 L1405.0,72.15 L1406.0,72.14 L1407.0,72.13 L1408.0,72.12 L1409.0,72.10 L1410.0,72.09 L1411.0,72.08 L1412.0,72.07 L1413.0,72.06 L1414.0,72.05 L1415.0,72.04 L1416.0,72.02 L1417.0,72.01 L1418.0,72.00 L1419.0,71.99 L1420.0,71.98 L1421.0,71.97 L1422.0,71.96 L1423.0,71.95 L1424.0,71.94 L1425.0,71.93 L1426.0,71.92 L1427.0,71.91 L1428.0,71.90 L1429.0,71.89 L1430.0,71.88 L1431.0,71.87 L1432.0,71.86 L1433.0,71.85 L1434.0,71.84 L1435.0,71.83 L1436.0,71.83 L1437.0,71.82 L1438.0,71.81 L1439.0,71.80 L1440.0,71.79 L1441.0,71.78 L1442.0,71.77 L1443.0,71.77 L1444.0,71.76 L1445.0,71.75 L1446.0,71.74 L1447.0,71.73 L1448.0,71.73 L1449.0,71.72 L1450.0,71.71 L1451.0,71.70 L1452.0,71.69 L1453.0,71.69 L1454.0,71.68 L1455.0,71.67 L1456.0,71.66 L1457.0,71.66 L1458.0,71.65 L1459.0,71.64 L1460.0,71.64" stroke="#00f" stroke-width="4.4" fill="none" stroke-linejoin="round"/>
<path d="M682.0,70.96 L683.0,70.96 L684.0,70.97 L685.0,70.97 L686.0,70.97 L687.0,70.97 L688.0,70.97 L689.0,70.98 L690.0,70.98 L691.0,70.98 L692.0,70.98 L693.0,70.99 L694.0,70.99 L695.0,70.99 L696.0,70.99 L697.0,71.00 L698.0,71.00 L699.0,71.00 L700.0,71.00 L701.0,71.01 L702.0,71.01 L703.0,71.01 L704.0,71.01 L705.0,71.02 L706.0,71.02 L707.0,71.02 L708.0,71.03 L709.0,71.03 L710.0,71.03 L711.0,71.03 L712.0,71.04 L713.0,71.04 L714.0,71.04 L715.0,71.05 L716.0,71.05 L717.0,71.05 L718.0,71.05 L719.0,71.06 L720.0,71.06 L721.0,71.06 L722.0,71.07 L723.0,71.07 L724.0,71.07 L725.0,71.08 L726.0,71.08 L727.0,71.08 L728.0,71.08 L729.0,71.09 L730.0,71.09 L731.0,71.09 L732.0,71.10 L733.0,71.10 L734.0,71.10 L735.0,71.11 L736.0,71.11 L737.0,71.12 L738.0,71.12 L739.0,71.12 L740.0,71.13 L741.0,71.13 L742.0,71.13 L743.0,71.14 L744.0,71.14 L745.0,71.14 L746.0,71.15 L747.0,71.15 L748.0,71.16 L749.0,71.16 L750.0,71.16 L751.0,71.17 L752.0,71.17 L753.0,71.17 L754.0,71.18 L755.0,71.18 L756.0,71.19 L757.0,71.19 L758.0,71.20 L759.0,71.20 L760.0,71.20 L761.0,71.21 L762.0,71.21 L763.0,71.22 L764.0,71.22 L765.0,71.23 L766.0,71.23 L767.0,71.23 L768.0,71.24 L769.0,71.24 L770.0,71.25 L771.0,71.25 L772.0,71.26 L773.0,71.26 L774.0,71.27 L775.0,71.27 L776.0,71.28 L777.0,71.28 L778.0,71.29 L779.0,71.29 L780.0,71.30 L781.0,71.30 L782.0,71.31 L783.0,71.31 L784.0,71.32 L785.0,71.32 L786.0,71.33 L787.0,71.33 L788.0,71.34 L789.0,71.35 L790.0,71.35 L791.0,71.36 L792.0,71.36 L793.0,71.37 L794.0,71.37 L795.0,71.38 L796.0,71.39 L797.0,71.39 L798.0,71.40 L799.0,71.40 L800.0,71.41 L801.0,71.42 L802.0,71.42 L803.0,71.43 L804.0,71.44 L805.0,71.44 L806.0,71.45 L807.0,71.46 L808.0,71.46 L809.0,71.47 L810.0,71.48 L811.0,71.48 L812.0,71.49 L813.0,71.50 L814.0,71.51 L815.0,71.51 L816.0,71.52 L817.0,71.53 L818.0,71.54 L819.0,71.54 L820.0,71.55 L821.0,71.56 L822.0,71.57 L823.0,71.57 L824.0,71.58 L825.0,71.59 L826.0,71.60 L827.0,71.61 L828.0,71.62 L829.0,71.62 L830.0,71.63 L831.0,71.64 L832.0,71.65 L833.0,71.66 L834.0,71.67 L835.0,71.68 L836.0,71.69 L837.0,71.70 L838.0,71.71 L839.0,71.72 L840.0,71.73 L841.0,71.74 L842.0,71.75 L843.0,71.76 L844.0,71.77 L845.0,71.78 L846.0,71.79 L847.0,71.80 L848.0,71.81 L849.0,71.82 L850.0,71.83 L851.0,71.84 L852.0,71.85 L853.0,71.86 L854.0,71.88 L855.0,71.89 L856.0,71.90 L857.0,71.91 L858.0,71.92 L859.0,71.94 L860.0,71.95 L861.0,71.96 L862.0,71.97 L863.0,71.99 L864.0,72.00 L865.0,72.01 L866.0,72.03 L867.0,72.04 L868.0,72.05 L869.0,72.07 L870.0,72.08 L871.0,72.10 L872.0,72.11 L873.0,72.13 L874.0,72.14 L875.0,72.16 L876.0,72.17 L877.0,72.19 L878.0,72.21 L879.0,72.22 L880.0,72.24 L881.0,72.26 L882.0,72.27 L883.0,72.29 L884.0,72.31 L885.0,72.32 L886.0,72.34 L887.0,72.36 L888.0,72.38 L889.0,72.40 L890.0,72.42 L891.0,72.44 L892.0,72.46 L893.0,72.48 L894.0,72.50 L895.0,72.52 L896.0,72.54 L897.0,72.56 L898.0,72.58 L899.0,72.60 L900.0,72.63 L901.0,72.65 L902.0,72.67 L903.0,72.70 L904.0,72.72 L905.0,72.74 L906.0,72.77 L907.0,72.79 L908.0,72.82 L909.0,72.85 L910.0,72.87 L911.0,72.90 L912.0,72.93 L913.0,72.95 L914.0,72.98 L915.0,73.01 L916.0,73.04 L917.0,73.07 L918.0,73.10 L919.0,73.13 L920.0,73.16 L921.0,73.20 L922.0,73.23 L923.0,73.26 L924.0,73.29 L925.0,73.33 L926.0,73.36 L927.0,73.40 L928.0,73.44 L929.0,73.47 L930.0,73.51 L931.0,73.55 L932.0,73.59 L933.0,73.63 L934.0,73.67 L935.0,73.71 L936.0,73.76 L937.0,73.80 L938.0,73.84 L939.0,73.89 L940.0,73.93 L941.0,73.98 L942.0,74.03 L943.0,74.08 L944.0,74.13 L945.0,74.18 L946.0,74.23 L947.0,74.29 L948.0,74.34 L949.0,74.40 L950.0,74.46 L951.0,74.51 L952.0,74.57 L953.0,74.63 L954.0,74.70 L955.0,74.76 L956.0,74.83 L957.0,74.89 L958.0,74.96 L959.0,75.03 L960.0,75.11 L961.0,75.18 L962.0,75.26 L963.0,75.33 L964.0,75.41 L965.0,75.49 L966.0,75.58 L967.0,75.66 L968.0,75.75 L969.0,75.84 L970.0,75.93 L971.0,76.03 L972.0,76.13 L973.0,76.23 L974.0,76.33 L975.0,76.44 L976.0,76.55 L977.0,76.66 L978.0,76.77 L979.0,76.89 L980.0,77.01 L981.0,77.14 L982.0,77.27 L983.0,77.40 L984.0,77.54 L985.0,77.68 L986.0,77.82 L987.0,77.97 L988.0,78.13 L989.0,78.29 L990.0,78.45 L991.0,78.63 L992.0,78.80 L993.0,78.98 L994.0,79.17 L995.0,79.37 L996.0,79.57 L997.0,79.78 L998.0,79.99 L999.0,80.21 L1000.0,80.45 L1001.0,80.69 L1002.0,80.93 L1003.0,81.19 L1004.0,81.46 L1005.0,81.74 L1006.0,82.03 L1007.0,82.33 L1008.0,82.64 L1009.0,82.97 L1010.0,83.30 L1011.0,83.66 L1012.0,84.02 L1013.0,84.41 L1014.0,84.81 L1015.0,85.22 L1016.0,85.66 L1017.0,86.11 L1018.0,86.59 L1019.0,87.09 L1020.0,87.61 L1021.0,88.15 L1022.0,88.73 L1023.0,89.33 L1024.0,89.95 L1025.0,90.62 L1026.0,91.31 L1027.0,92.04 L1028.0,92.81 L1029.0,93.61 L1030.0,94.46 L1031.0,95.36 L1032.0,96.30 L1033.0,97.30 L1034.0,98.35 L1035.0,99.46 L1036.0,100.63 L1037.0,101.86 L1038.0,103.17 L1039.0,104.55 L1040.0,106.01 L1041.0,107.55 L1042.0,109.18 L1043.0,110.90 L1044.0,112.72 L1045.0,114.64 L1046.0,116.66 L1047.0,118.79 L1048.0,121.02 L1049.0,123.36 L1050.0,125.81 L1051.0,128.37 L1052.0,131.02 L1053.0,133.77 L1054.0,136.60 L1055.0,139.50 L1056.0,142.44 L1057.0,145.40 L1058.0,148.36 L1059.0,151.27 L1060.0,154.11 L1061.0,156.84 L1062.0,159.40 L1063.0,161.75 L1064.0,163.85 L1065.0,165.67 L1066.0,167.16 L1067.0,168.31 L1068.0,169.10 L1069.0,169.52 L1070.0,169.59 L1071.0,169.31 L1072.0,168.73 L1073.0,167.87 L1074.0,166.79 L1075.0,165.51 L1076.0,164.10 L1077.0,162.61 L1078.0,161.07 L1079.0,159.53 L1080.0,158.02 L1081.0,156.58 L1082.0,155.25 L1083.0,154.03 L1084.0,152.95 L1085.0,152.04 L1086.0,151.29 L1087.0,150.72 L1088.0,150.34 L1089.0,150.15 L1090.0,150.15 L1091.0,150.35 L1092.0,150.75 L1093.0,151.34 L1094.0,152.13 L1095.0,153.10 L1096.0,154.25 L1097.0,155.57 L1098.0,157.04 L1099.0,158.66 L1100.0,160.41 L1101.0,162.26 L1102.0,164.18 L1103.0,166.16 L1104.0,168.14 L1105.0,170.10 L1106.0,171.99 L1107.0,173.77 L1108.0,175.38 L1109.0,176.79 L1110.0,177.94 L1111.0,178.80 L1112.0,179.33 L1113.0,179.50 L1114.0,179.29 L1115.0,178.70 L1116.0,177.72 L1117.0,176.36 L1118.0,174.65 L1119.0,172.63 L1120.0,170.31 L1121.0,167.76 L1122.0,165.00 L1123.0,162.08 L1124.0,159.05 L1125.0,155.94 L1126.0,152.80 L1127.0,149.65 L1128.0,146.52 L1129.0,143.43 L1130.0,140.41 L1131.0,137.47 L1132.0,134.62 L1133.0,131.87 L1134.0,129.23 L1135.0,126.69 L1136.0,124.27 L1137.0,121.95 L1138.0,119.74 L1139.0,117.64 L1140.0,115.65 L1141.0,113.75 L1142.0,111.95 L1143.0,110.25 L1144.0,108.63 L1145.0,107.09 L1146.0,105.64 L1147.0,104.26 L1148.0,102.95 L1149.0,101.70 L1150.0,100.53 L1151.0,99.41 L1152.0,98.35 L1153.0,97.34 L1154.0,96.38 L1155.0,95.47 L1156.0,94.60 L1157.0,93.78 L1158.0,92.99 L1159.0,92.25 L1160.0,91.53 L1161.0,90.85 L1162.0,90.21 L1163.0,89.59 L1164.0,89.00 L1165.0,88.43 L1166.0,87.89 L1167.0,87.38 L1168.0,86.88 L1169.0,86.41 L1170.0,85.95 L1171.0,85.52 L1172.0,85.10 L1173.0,84.70 L1174.0,84.32 L1175.0,83.95 L1176.0,83.60 L1177.0,83.25 L1178.0,82.93 L1179.0,82.61 L1180.0,82.31 L1181.0,82.02 L1182.0,81.73 L1183.0,81.46 L1184.0,81.20 L1185.0,80.95 L1186.0,80.70 L1187.0,80.47 L1188.0,80.24 L1189.0,80.02 L1190.0,79.81 L1191.0,79.60 L1192.0,79.41 L1193.0,79.21 L1194.0,79.03 L1195.0,78.85 L1196.0,78.67 L1197.0,78.50 L1198.0,78.34 L1199.0,78.18 L1200.0,78.03 L1201.0,77.88 L1202.0,77.73 L1203.0,77.59 L1204.0,77.46 L1205.0,77.32 L1206.0,77.19 L1207.0,77.07 L1208.0,76.95 L1209.0,76.83 L1210.0,76.71 L1211.0,76.60 L1212.0,76.49 L1213.0,76.39 L1214.0,76.28 L1215.0,76.18 L1216.0,76.08 L1217.0,75.99 L1218.0,75.90 L1219.0,75.81 L1220.0,75.72 L1221.0,75.63 L1222.0,75.55 L1223.0,75.47 L1224.0,75.39 L1225.0,75.31 L1226.0,75.23 L1227.0,75.16 L1228.0,75.08 L1229.0,75.01 L1230.0,74.94 L1231.0,74.88 L1232.0,74.81 L1233.0,74.75 L1234.0,74.68 L1235.0,74.62 L1236.0,74.56 L1237.0,74.50 L1238.0,74.44 L1239.0,74.39 L1240.0,74.33 L1241.0,74.28 L1242.0,74.22 L1243.0,74.17 L1244.0,74.12 L1245.0,74.07 L1246.0,74.02 L1247.0,73.98 L1248.0,73.93 L1249.0,73.88 L1250.0,73.84 L1251.0,73.79 L1252.0,73.75 L1253.0,73.71 L1254.0,73.67 L1255.0,73.63 L1256.0,73.59 L1257.0,73.55 L1258.0,73.51 L1259.0,73.47 L1260.0,73.43 L1261.0,73.40 L1262.0,73.36 L1263.0,73.33 L1264.0,73.29 L1265.0,73.26 L1266.0,73.23 L1267.0,73.19 L1268.0,73.16 L1269.0,73.13 L1270.0,73.10 L1271.0,73.07 L1272.0,73.04 L1273.0,73.01 L1274.0,72.98 L1275.0,72.95 L1276.0,72.93 L1277.0,72.90 L1278.0,72.87 L1279.0,72.85 L1280.0,72.82 L1281.0,72.80 L1282.0,72.77 L1283.0,72.75 L1284.0,72.72 L1285.0,72.70 L1286.0,72.67 L1287.0,72.65 L1288.0,72.63 L1289.0,72.61 L1290.0,72.58 L1291.0,72.56 L1292.0,72.54 L1293.0,72.52 L1294.0,72.50 L1295.0,72.48 L1296.0,72.46 L1297.0,72.44 L1298.0,72.42 L1299.0,72.40 L1300.0,72.38 L1301.0,72.36 L1302.0,72.35 L1303.0,72.33 L1304.0,72.31 L1305.0,72.29 L1306.0,72.27 L1307.0,72.26 L1308.0,72.24 L1309.0,72.22 L1310.0,72.21 L1311.0,72.19 L1312.0,72.18 L1313.0,72.16 L1314.0,72.15 L1315.0,72.13 L1316.0,72.11 L1317.0,72.10 L1318.0,72.09 L1319.0,72.07 L1320.0,72.06 L1321.0,72.04 L1322.0,72.03 L1323.0,72.02 L1324.0,72.00 L1325.0,71.99 L1326.0,71.98 L1327.0,71.96 L1328.0,71.95 L1329.0,71.94 L1330.0,71.93 L1331.0,71.91 L1332.0,71.90 L1333.0,71.89 L1334.0,71.88 L1335.0,71.87 L1336.0,71.85 L1337.0,71.84 L1338.0,71.83 L1339.0,71.82 L1340.0,71.81 L1341.0,71.80 L1342.0,71.79 L1343.0,71.78 L1344.0,71.77 L1345.0,71.76 L1346.0,71.75 L1347.0,71.74 L1348.0,71.73 L1349.0,71.72 L1350.0,71.71 L1351.0,71.70 L1352.0,71.69 L1353.0,71.68 L1354.0,71.67 L1355.0,71.66 L1356.0,71.65 L1357.0,71.64 L1358.0,71.63 L1359.0,71.63 L1360.0,71.62 L1361.0,71.61 L1362.0,71.60 L1363.0,71.59 L1364.0,71.58 L1365.0,71.58 L1366.0,71.57 L1367.0,71.56 L1368.0,71.55 L1369.0,71.54 L1370.0,71.54 L1371.0,71.53 L1372.0,71.52 L1373.0,71.51 L1374.0,71.51 L1375.0,71.50 L1376.0,71.49 L1377.0,71.49 L1378.0,71.48 L1379.0,71.47 L1380.0,71.46 L1381.0,71.46 L1382.0,71.45 L1383.0,71.44 L1384.0,71.44 L1385.0,71.43 L1386.0,71.43 L1387.0,71.42 L1388.0,71.41 L1389.0,71.41 L1390.0,71.40 L1391.0,71.39 L1392.0,71.39 L1393.0,71.38 L1394.0,71.38 L1395.0,71.37 L1396.0,71.36 L1397.0,71.36 L1398.0,71.35 L1399.0,71.35 L1400.0,71.34 L1401.0,71.34 L1402.0,71.33 L1403.0,71.32 L1404.0,71.32 L1405.0,71.31 L1406.0,71.31 L1407.0,71.30 L1408.0,71.30 L1409.0,71.29 L1410.0,71.29 L1411.0,71.28 L1412.0,71.28 L1413.0,71.27 L1414.0,71.27 L1415.0,71.26 L1416.0,71.26 L1417.0,71.25 L1418.0,71.25 L1419.0,71.24 L1420.0,71.24 L1421.0,71.24 L1422.0,71.23 L1423.0,71.23 L1424.0,71.22 L1425.0,71.22 L1426.0,71.21 L1427.0,71.21 L1428.0,71.20 L1429.0,71.20 L1430.0,71.20 L1431.0,71.19 L1432.0,71.19 L1433.0,71.18 L1434.0,71.18 L1435.0,71.18 L1436.0,71.17 L1437.0,71.17 L1438.0,71.16 L1439.0,71.16 L1440.0,71.16 L1441.0,71.15 L1442.0,71.15 L1443.0,71.15 L1444.0,71.14 L1445.0,71.14 L1446.0,71.13 L1447.0,71.13 L1448.0,71.13 L1449.0,71.12 L1450.0,71.12 L1451.0,71.12 L1452.0,71.11 L1453.0,71.11 L1454.0,71.11 L1455.0,71.10 L1456.0,71.10 L1457.0,71.10 L1458.0,71.09 L1459.0,71.09 L1460.0,71.09" stroke="#f00" stroke-width="4.4" fill="none" stroke-linejoin="round"/>
<path d="M217.3,20V57.8M311.0,20V57.8M404.6,20V57.8M498.2,20V57.8M591.9,20V57.8M685.5,20V57.8M779.1,20V57.8M872.7,20V57.8M966.4,20V57.8M1060.0,20V57.8M1153.6,20V57.8M1247.3,20V57.8M1340.9,20V57.8M1434.5,20V57.8M1528.2,20V57.8M1621.8,20V57.8M1715.4,20V57.8M1809.0,20V57.8M1902.7,20V57.8M22,143.5H60M2079,143.5H2112M22,533.4H60M2079,533.4H2112M22,707.7H60M2079,707.7H2112M22,970.6H60M2079,970.6H2112" stroke="#1d1a18" stroke-width="4.6" fill="none"/>
<rect x="24.6" y="22.4" width="2089.8" height="961" stroke="#1d1a18" stroke-width="5" fill="none"/>
<g font-family="'Liberation Sans', sans-serif" font-size="58" fill="#000" stroke="#000" stroke-width="1">
<text x="170.5" y="210.3">293 K</text>
<text x="170.5" y="649">6.4 K</text>
</g>
<g font-family="'Liberation Sans', sans-serif" font-weight="bold" font-size="80" fill="#000" text-anchor="middle">
<text x="305.2" y="1058">-8</text><text x="493.1" y="1058">-6</text><text x="683.2" y="1058">-4</text><text x="867.5" y="1058">-2</text><text x="1058.5" y="1058">0</text><text x="1243.6" y="1058">2</text><text x="1432.6" y="1058">4</text><text x="1621.5" y="1058">6</text><text x="1809.7" y="1058">8</text>
</g>
<text x="1096" y="1160.5" text-anchor="middle" font-family="'Liberation Sans', sans-serif" font-weight="bold" font-size="77.6" fill="#000">Velocity (mm/s)</text>
</svg>
</body></html>
